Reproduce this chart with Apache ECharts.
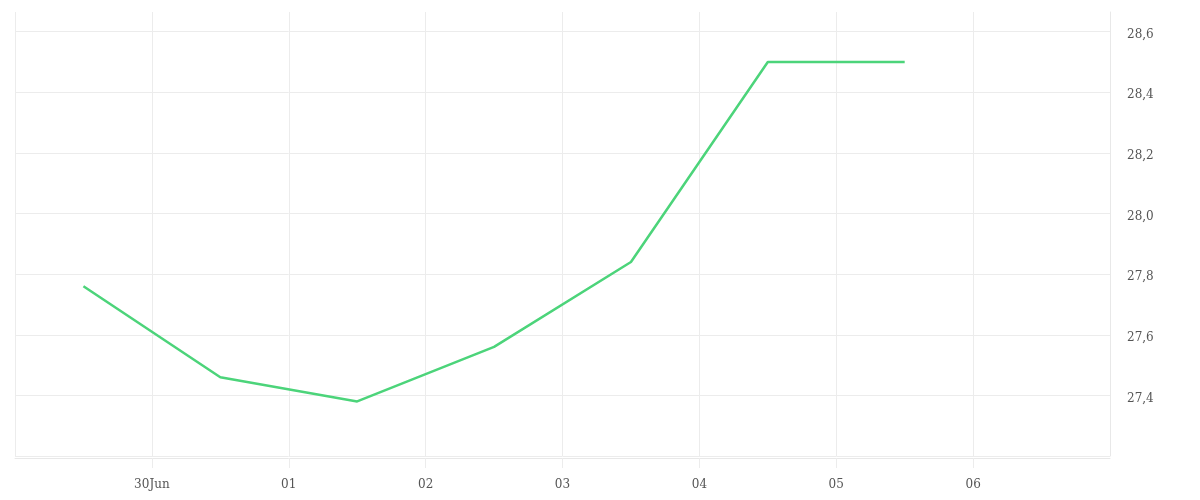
<!DOCTYPE html>
<html>
<head>
<meta charset="utf-8">
<script src="https://cdn.jsdelivr.net/npm/echarts@6/dist/echarts.min.js"></script>
<style>html,body{margin:0;padding:0;background:#fff}#c{width:1200px;height:500px}</style>
</head>
<body>
<div id="c"></div>
<script>
// Data: daily values, plotted at midday (UTC)
const dates = ['2025-06-29','2025-06-30','2025-07-01','2025-07-02','2025-07-03','2025-07-04','2025-07-05'];
const values = [27.76, 27.46, 27.38, 27.56, 27.84, 28.50, 28.50];
const xMinDate = '2025-06-29';
const xMaxDate = '2025-07-07';
const monthNames = ['Jan','Feb','Mar','Apr','May','Jun','Jul','Aug','Sep','Oct','Nov','Dec'];

const DAY = 86400000;
const toTs = s => Date.parse(s + 'T00:00:00Z');
const seriesData = dates.map((d, i) => [toTs(d) + DAY / 2, values[i]]);

const chart = echarts.init(document.getElementById('c'));
const font = '"DejaVu Serif", serif';
chart.setOption({
  animation: false,
  grid: { left: 15, right: 90, top: 12, bottom: 44 },
  xAxis: {
    type: 'value',
    min: toTs(xMinDate),
    max: toTs(xMaxDate),
    interval: DAY,
    offset: 2,
    axisLine: { show: true, lineStyle: { color: '#e8e8e8', width: 1 } },
    axisTick: { show: true, inside: false, length: 10, lineStyle: { color: '#ececec', width: 1 } },
    splitLine: { show: true, lineStyle: { color: '#ececec' } },
    axisLabel: {
      showMinLabel: false, showMaxLabel: false, margin: 21,
      color: '#555', fontFamily: font, fontSize: 12,
      formatter: v => {
        const d = new Date(v);
        const day = String(d.getUTCDate()).padStart(2, '0');
        return d.getUTCDate() === 1 || d.getUTCMonth() === 6 ? day : day + monthNames[d.getUTCMonth()];
      }
    }
  },
  yAxis: {
    type: 'value',
    position: 'right',
    min: 27.2,
    max: 28.665,
    interval: 0.2,
    axisLine: { show: true, lineStyle: { color: '#e8e8e8' } },
    axisTick: { show: false },
    splitLine: { show: true, showMaxLine: false, lineStyle: { color: '#ececec' } },
    axisLabel: {
      showMinLabel: false, showMaxLabel: false, margin: 17,
      color: '#555', fontFamily: font, fontSize: 12,
      verticalAlign: 'top',
      padding: [-3, 0, 0, 0],
      formatter: v => v.toFixed(1).replace('.', ',')
    }
  },
  series: [{
    type: 'line',
    data: seriesData,
    showSymbol: false,
    lineStyle: { color: '#4cd47a', width: 2.5 },
    itemStyle: { color: '#4cd47a' }
  }]
});
</script>
</body>
</html>
